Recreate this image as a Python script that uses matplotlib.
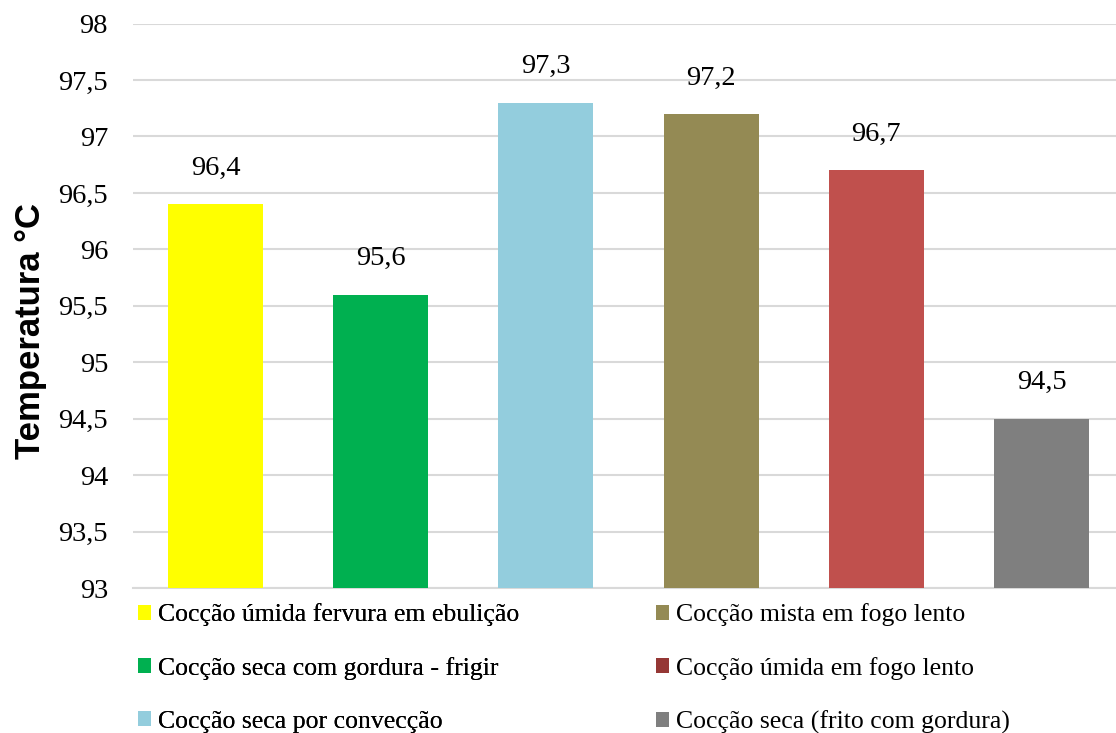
import matplotlib.pyplot as plt
from matplotlib.patches import Patch

# cooking methods and measured temperatures
categories = [
    'Cocção úmida fervura em ebulição',
    'Cocção seca com gordura - frigir',
    'Cocção seca por convecção',
    'Cocção mista em fogo lento',
    'Cocção úmida em fogo lento',
    'Cocção seca (frito com gordura)',
]
temperatures = [96.4, 95.6, 97.3, 97.2, 96.7, 94.5]
bar_colors = ['#FFFF00', '#00B050', '#93CDDD', '#948A54', '#C0504D', '#7F7F7F']
legend_colors = ['#FFFF00', '#00B050', '#93CDDD', '#948A54', '#953735', '#7F7F7F']
yticks = [93, 93.5, 94, 94.5, 95, 95.5, 96, 96.5, 97, 97.5, 98]

serif = 'Liberation Serif'


def comma(v):
    return f'{v:g}'.replace('.', ',')


fig = plt.figure(figsize=(11.16, 7.33), dpi=100)
ax = fig.add_axes([0.1192, 0.1978, 0.888, 0.770])

xs = range(len(temperatures))
ax.bar(xs, [t - 93 for t in temperatures], bottom=93, width=0.575,
       color=bar_colors, zorder=3)

for x, t in zip(xs, temperatures):
    ax.text(x, t + 0.26, comma(t), ha='center', va='baseline',
            fontsize=20.5, family=serif, zorder=4)

ax.set_xlim(-0.5, 5.5)
ax.set_ylim(93, 98)
ax.set_yticks(yticks)
ax.set_yticklabels([comma(v) for v in yticks], fontsize=20.5, family=serif)
ax.set_xticks([])
ax.tick_params(axis='y', length=0, pad=18)

ax.grid(axis='y', color='#D9D9D9', linewidth=1.5, zorder=0)
for side in ['top', 'right', 'left']:
    ax.spines[side].set_visible(False)
ax.spines['bottom'].set_color('#D9D9D9')
ax.spines['bottom'].set_linewidth(1.5)

fig.text(0.027, 0.548, 'Temperatura °C', rotation=90, ha='center', va='center',
         fontsize=25, fontweight='bold', family='Liberation Sans')

# legend in two columns of three entries
handles = [Patch(facecolor=c, edgecolor='none') for c in legend_colors]
legend_kw = dict(loc='upper left', frameon=False,
                 prop={'family': serif, 'size': 18.5},
                 handlelength=0.52, handleheight=0.52, handletextpad=0.27,
                 labelspacing=1.2, borderpad=0, borderaxespad=0)
left_col = fig.legend(handles[:3], categories[:3],
                      bbox_to_anchor=(138 / 1116, 0.177), **legend_kw)
fig.add_artist(left_col)
fig.legend(handles[3:], categories[3:],
           bbox_to_anchor=(656 / 1116, 0.177), **legend_kw)

fig.savefig('out.png', dpi=100)
